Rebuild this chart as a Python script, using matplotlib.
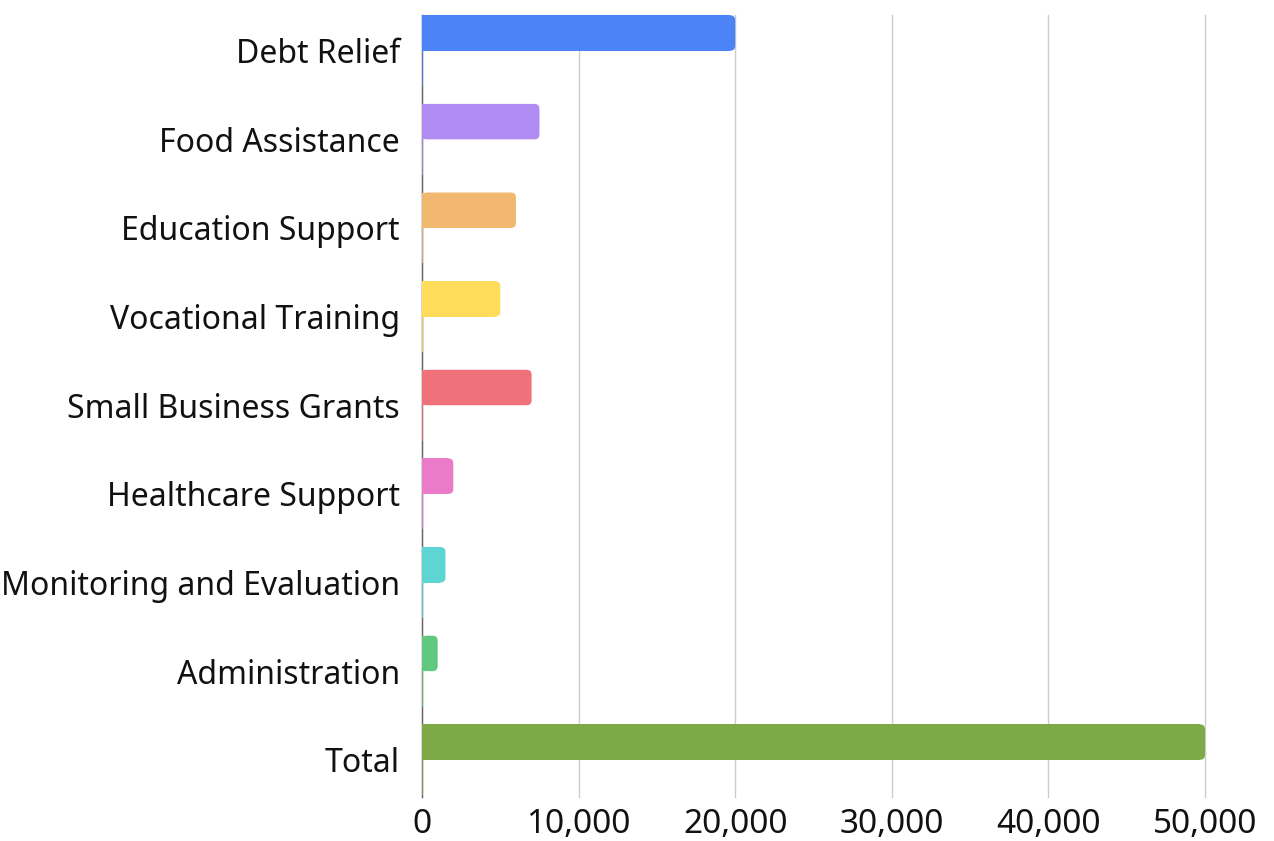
import matplotlib
matplotlib.use("Agg")
import matplotlib.pyplot as plt
from matplotlib.patches import FancyBboxPatch
from matplotlib.ticker import FuncFormatter, MultipleLocator

categories = ["Debt Relief", "Food Assistance", "Education Support", "Vocational Training",
              "Small Business Grants", "Healthcare Support", "Monitoring and Evaluation",
              "Administration", "Total"]
amounts = [20000, 7500, 6000, 5000, 7000, 2000, 1500, 1000, 50000]
secondary = [0, 0, 0, 0, 0, 0, 0, 0, 0]
colors = ["#4C84F7", "#B08CF2", "#F3B870", "#FFDC5A", "#EF727B",
          "#E97BC8", "#5DD5D3", "#60C97F", "#7DAA47"]

plt.rcParams['font.family'] = ['Noto Sans', 'DejaVu Sans']

fig = plt.figure(figsize=(12.74, 8.41), dpi=100)
ax = fig.add_axes([422/1274, 1 - 797/841, (1205-422)/1274, (797-15)/841])

pos = list(range(len(categories)))
h = 0.4
bars = ax.barh([p - h/2 for p in pos], amounts, height=h, color=colors, linewidth=0, zorder=3)
ax.barh([p + h/2 for p in pos], secondary, height=h, color=colors, edgecolor=colors,
        linewidth=1.2, zorder=3)

ax.set_xlim(0, 50000)
ax.set_ylim(8.42, -0.403)

# rounded right ends
fig.canvas.draw()
bb = ax.get_window_extent()
xpp = 50000 / bb.width
ypp = (8.42 + 0.403) / bb.height
r_px = 5
for rect, c in zip(bars.patches, colors):
    x, y, w, hh = rect.get_x(), rect.get_y(), rect.get_width(), rect.get_height()
    r = r_px * xpp
    rect.set_width(max(w - r, 0))
    p = FancyBboxPatch((x, y), w, hh, boxstyle=f"round,pad=0,rounding_size={r}",
                       mutation_aspect=ypp / xpp, facecolor=c, edgecolor='none',
                       linewidth=0, zorder=3)
    ax.add_patch(p)

ax.set_yticks(pos)
ax.set_yticklabels(categories, fontsize=23, color='#111111')
ax.xaxis.set_major_locator(MultipleLocator(10000))
ax.xaxis.set_major_formatter(FuncFormatter(lambda v, _: f"{int(v):,}"))
ax.tick_params(axis='x', labelsize=24, length=0, pad=8, labelcolor='#111111')
ax.tick_params(axis='y', length=0, pad=16)
ax.grid(axis='x', color='#CCCCCC', linewidth=1, zorder=0)
for gl in ax.get_xgridlines():
    gl.set_clip_on(False)
for s in ['top', 'right', 'bottom']:
    ax.spines[s].set_visible(False)
ax.spines['left'].set_color('#666666')
ax.spines['left'].set_linewidth(1)
ax.spines['left'].set_zorder(2)

fig.savefig("out.png", dpi=100, facecolor='white')
